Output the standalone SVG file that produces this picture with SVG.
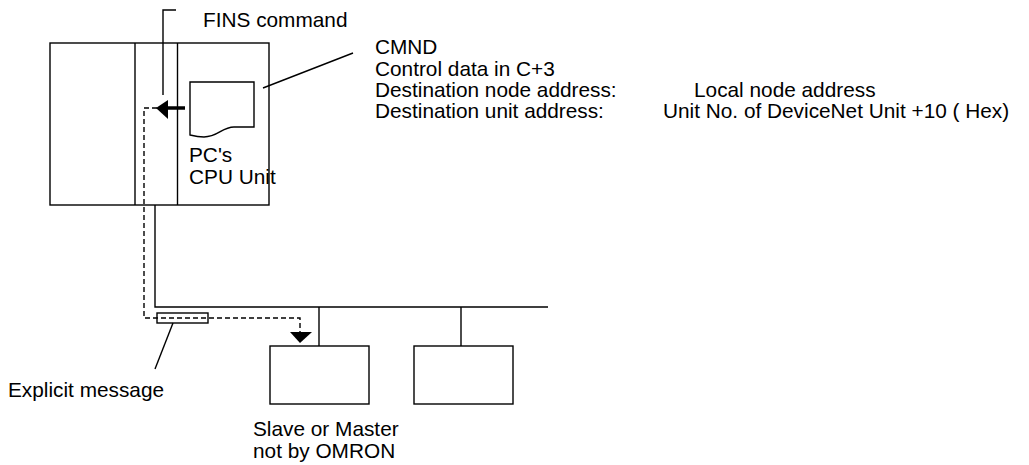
<svg xmlns="http://www.w3.org/2000/svg" width="1029" height="465" viewBox="0 0 1029 465">
<style>
.ln{fill:none;stroke:#000;stroke-width:1.4}
.bx{fill:#fff;stroke:#000;stroke-width:1.4}
.ds{fill:none;stroke:#000;stroke-width:1.4;stroke-dasharray:5,3}
.t{font-family:"Liberation Sans",Arial,sans-serif;font-size:20.8px;fill:#000}
</style>
<rect width="1029" height="465" fill="#fff"/>
<g id="cpu-rack">
<rect class="bx" x="50" y="43" width="219" height="162"/>
<line class="ln" x1="135" y1="43" x2="135" y2="205"/>
<line class="ln" x1="177.5" y1="43" x2="177.5" y2="205"/>
</g>
<g id="cpu-unit">
<path class="bx" d="M190,82 H254 V127 H234 C222,127 218,137 204,137 C198,137 194,136 190,135 Z"/>
<text class="t" font-size="18.5"><tspan x="189" y="162">PC's</tspan><tspan x="189" y="184">CPU Unit</tspan></text>
</g>
<g id="slave1">
<rect class="bx" x="270" y="346" width="99" height="58"/>
<text class="t" font-size="20.5"><tspan x="253" y="436">Slave or Master</tspan><tspan x="253" y="458">not by OMRON</tspan></text>
</g>
<g id="slave2">
<rect class="bx" x="414" y="346" width="99" height="58"/>
</g>
<g id="labels">
<text class="t" x="203" y="27" font-size="21.3">FINS command</text>
<text class="t"><tspan x="375" y="54">CMND</tspan><tspan x="375" y="75.5">Control data in C+3</tspan><tspan x="375" y="97">Destination node address:</tspan><tspan x="375" y="118">Destination unit address:</tspan></text>
<text class="t"><tspan x="694" y="97">Local node address</tspan><tspan x="663" y="118">Unit No. of DeviceNet Unit +10 ( Hex)</tspan></text>
<text class="t" x="8" y="397" font-size="21.5">Explicit message</text>
</g>
<g id="connectors">
<polyline class="ln" points="155,205 155,307 548,307"/>
<line class="ln" x1="319" y1="307" x2="319" y2="346"/>
<line class="ln" x1="461" y1="307" x2="461" y2="346"/>
<polyline class="ln" points="176,10 163,10 163,95"/>
<line class="ln" x1="263" y1="88" x2="353" y2="53"/>
<polyline class="ds" points="157,108 144,108 144,318 300,318 300,332"/>
<line x1="166" y1="108" x2="185" y2="108" stroke="#000" stroke-width="3.5"/>
<polygon points="156,108 168,100 168,119" fill="#000"/>
<polygon points="300,343 290,332 312,332" fill="#000"/>
<rect class="ln" x="157" y="313" width="51" height="10"/>
<line class="ln" x1="173" y1="323" x2="155" y2="369"/>
</g>
</svg>
